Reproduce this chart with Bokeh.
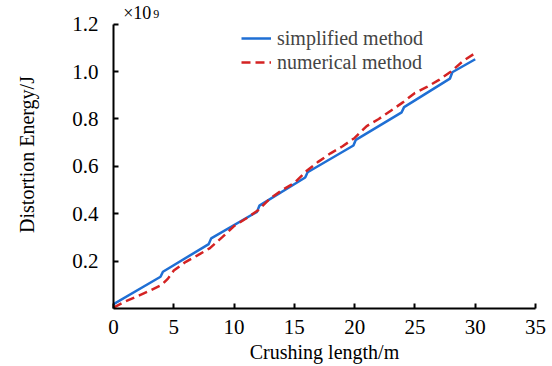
from bokeh.plotting import figure
from bokeh.models import Range1d, FixedTicker, NumeralTickFormatter, Label, Legend, LegendItem
from bokeh.embed import file_html
from bokeh.resources import INLINE

# Data (energy in units of 1e9 J)
simp_x = [0, 3.9, 4.1, 7.9, 8.1, 11.9, 12.1, 15.9, 16.1, 19.9, 20.1, 23.9, 24.1, 27.9, 28.1, 30]
simp_y = [0.018, 0.134, 0.155, 0.272, 0.296, 0.408, 0.434, 0.553, 0.575, 0.688, 0.712, 0.828, 0.850, 0.970, 0.997, 1.052]

num_x = [0, 1, 2, 3, 4, 4.5, 5, 6, 7, 8, 9, 10, 11, 12, 13, 14, 15, 16, 17, 18, 19, 20,
         21, 22, 23, 24, 25, 26, 27, 28, 29, 30]
num_y = [0.004, 0.03, 0.052, 0.075, 0.10, 0.125, 0.16, 0.197, 0.225, 0.255, 0.30, 0.348,
         0.38, 0.415, 0.465, 0.50, 0.53, 0.58, 0.62, 0.655, 0.685, 0.72, 0.77, 0.80, 0.835,
         0.87, 0.91, 0.935, 0.965, 1.0, 1.045, 1.078]

x_ticks = [0, 5, 10, 15, 20, 25, 30, 35]
y_ticks = [0.2, 0.4, 0.6, 0.8, 1.0, 1.2]

FONT = "Liberation Serif"

p = figure(width=552, height=366, output_backend="svg", toolbar_location=None,
           x_range=Range1d(0, 35), y_range=Range1d(0, 1.3),
           min_border_left=113, min_border_right=17, min_border_top=0, min_border_bottom=58)
p.outline_line_color = None
p.grid.visible = False
p.background_fill_color = "white"
p.border_fill_color = "white"

blue = p.line(simp_x, simp_y, line_color="#1f6fd4", line_width=2.5)
red = p.line(num_x, num_y, line_color="#d42323", line_width=2.5, line_dash="9 5")

p.axis.axis_line_width = 2
p.axis.axis_line_color = "black"
p.axis.major_tick_line_color = "black"
p.axis.major_tick_line_width = 2
p.axis.major_tick_in = 5
p.axis.major_tick_out = 0
p.axis.minor_tick_line_color = None
p.axis.major_label_text_font = FONT
p.axis.major_label_text_font_size = "21px"
p.axis.major_label_text_color = "black"
p.axis.axis_label_text_font = FONT
p.axis.axis_label_text_font_size = "20px"
p.axis.axis_label_text_font_style = "normal"
p.axis.axis_label_text_color = "black"

p.xaxis.ticker = FixedTicker(ticks=x_ticks)
p.yaxis.ticker = FixedTicker(ticks=y_ticks)
p.yaxis.bounds = (0, 1.2)
p.yaxis.formatter = NumeralTickFormatter(format="0.0")
p.xaxis.axis_label = "Crushing length/m"
p.yaxis.axis_label = "Distortion Energy/J"
p.xaxis.major_label_standoff = 11
p.xaxis.axis_label_standoff = 4
p.yaxis.major_label_standoff = 15
p.yaxis.axis_label_standoff = 31

p.add_layout(Label(x=0.8, y=1.2, y_offset=1, text="×10", text_font=FONT,
                   text_font_size="18px", text_color="black", text_baseline="bottom"))
p.add_layout(Label(x=0.8, y=1.2, x_offset=30, y_offset=6, text="9", text_font=FONT,
                   text_font_size="12px", text_color="black", text_baseline="bottom"))

legend = Legend(items=[LegendItem(label="simplified method", renderers=[blue]),
                       LegendItem(label="numerical method", renderers=[red])],
                location=(128, 234), padding=0, spacing=0, margin=0,
                label_height=24, glyph_height=24, glyph_width=30, label_standoff=6,
                label_text_font=FONT, label_text_font_size="20px",
                border_line_alpha=0, background_fill_alpha=0)
p.add_layout(legend)

open("out.html", "w").write(file_html(p, INLINE))
